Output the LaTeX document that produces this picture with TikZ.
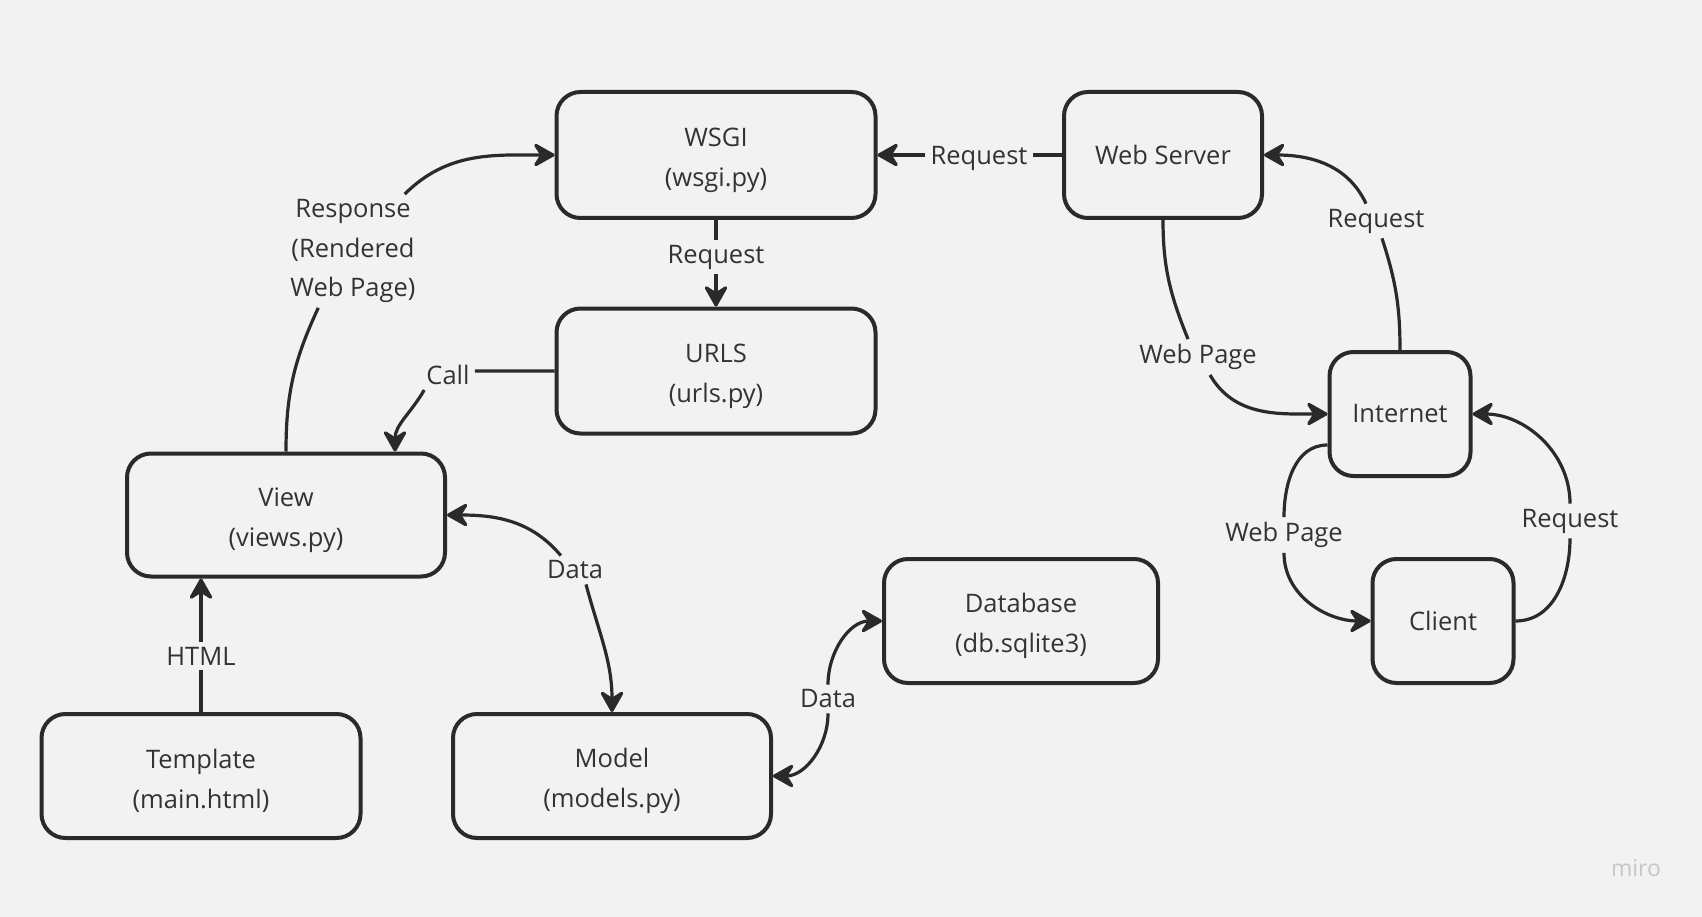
\documentclass[tikz,border=0pt]{standalone}
\usepackage{fontspec}
\setmainfont{Open Sans}
\usetikzlibrary{arrows.meta}
\definecolor{bg}{HTML}{F2F2F2}
\definecolor{ink}{HTML}{2A2A2A}
\definecolor{txt}{HTML}{333333}
\definecolor{mirogray}{HTML}{C6C6C6}
\newcommand\fsz{\fontsize{25.5}{39.5}\selectfont}
\newcommand\upstrut{\rule{0pt}{29pt}}
\begin{document}
\begin{tikzpicture}[x=1pt,y=1pt,
  box/.style={draw=ink, line width=4pt, rounded corners=24pt, fill=bg, text=txt,
    align=center, font=\fsz, inner sep=0pt},
  lab/.style={text=txt, font=\fsz, inner sep=5pt, align=center},
  conn/.style={draw=ink, line width=3.2pt},
  tipend/.style={-{Stealth[length=25pt,width=28pt,inset=9pt,round]}},
  tipstart/.style={{Stealth[length=25pt,width=28pt,inset=9pt,round]}-}
]
\fill[bg] (0,0) rectangle (1702,-917);
\useasboundingbox (0,0) rectangle (1702,-917);

% boxes
\node[box, minimum width=319pt, minimum height=126pt] (wsgi) at (716,-155) {\upstrut WSGI\\(wsgi.py)};
\node[box, minimum width=319pt, minimum height=125pt] (urls) at (716,-371) {\upstrut URLS\\(urls.py)};
\node[box, minimum width=198pt, minimum height=126pt] (ws) at (1163,-155) {Web Server};
\node[box, minimum width=141pt, minimum height=124pt] (inet) at (1400,-414) {Internet};
\node[box, minimum width=318pt, minimum height=123pt] (view) at (286,-515) {\upstrut View\\(views.py)};
\node[box, minimum width=319pt, minimum height=124pt] (tmpl) at (201,-776) {\upstrut Template\\(main.html)};
\node[box, minimum width=318pt, minimum height=124pt] (model) at (612,-776) {\upstrut Model\\(models.py)};
\node[box, minimum width=274pt, minimum height=124pt] (db) at (1021,-621) {\upstrut Database\\(db.sqlite3)};
\node[box, minimum width=141pt, minimum height=124pt] (client) at (1443,-621) {Client};

% labels
\node[lab] (lreq1) at (979,-158) {Request};
\node[lab] (lreq2) at (716,-257) {Request};
\node[lab] (lresp) at (353,-251) {Response\\(Rendered\\Web Page)};
\node[lab] (lcall) at (448,-375) {Call};
\node[lab] (lhtml) at (201,-656) {HTML};
\node[lab] (ldata1) at (575,-570) {Data};
\node[lab] (ldata2) at (828,-699) {Data};
\node[lab] (lreq3) at (1376,-221) {Request};
\node[lab] (lwp1) at (1198,-357) {Web Page};
\node[lab] (lwp2) at (1284,-535) {Web Page};
\node[lab] (lreq4) at (1570,-521) {Request};

% connectors
\draw[conn,tipend] (ws.west) -- (ws.west -| lreq1.east)
  (ws.west -| lreq1.west) -- (wsgi.east);
\draw[conn,tipend] (wsgi) -- (lreq2) -- (urls);
\draw[conn,tipend] (urls.west) -- (urls.west -| lcall.east)
  ([xshift=3pt]lcall.south west) to[out=240,in=90] ([xshift=109pt]view.north);
\draw[conn,tipend] (view.north) to[out=90,in=-115] ([xshift=33pt]lresp.south west)
  ([xshift=-16pt]lresp.north east) to[out=45,in=180] (wsgi.west);
\draw[conn,tipend] (tmpl.north) -- (lhtml) -- (view.south -| tmpl.north);
\draw[conn,tipstart] (view.east) to[out=0,in=130] ([xshift=19pt]ldata1.north west);
\draw[conn,tipend] ([xshift=11pt]ldata1.south) to[out=-75,in=90] (model.north);
\draw[conn,tipstart] (model.east) to[out=0,in=-90] (ldata2.south);
\draw[conn,tipend] (ldata2.north) to[out=90,in=180] (db.west);
\draw[conn,tipend] (ws.south) to[out=-90,in=112] ([xshift=-10pt]lwp1.north)
  ([xshift=12pt]lwp1.south) to[out=-60,in=180] (inet.west);
\draw[conn,tipend] (inet.north) to[out=90,in=-72] ([xshift=6pt]lreq3.south)
  ([xshift=-10pt]lreq3.north) to[out=115,in=0] (ws.east);
\draw[conn,tipend] ([yshift=-31pt]inet.west) to[out=180,in=90] (lwp2.north)
  (lwp2.south) to[out=-90,in=180] (client.west);
\draw[conn,tipend] (client.east) to[out=0,in=-90] (lreq4.south)
  (lreq4.north) to[out=90,in=0] (inet.east);

% watermark
\node[text=mirogray, font=\fontsize{23}{23}\selectfont, inner sep=0pt] (miro) at (1636,-868) {miro};
\end{tikzpicture}
\end{document}
